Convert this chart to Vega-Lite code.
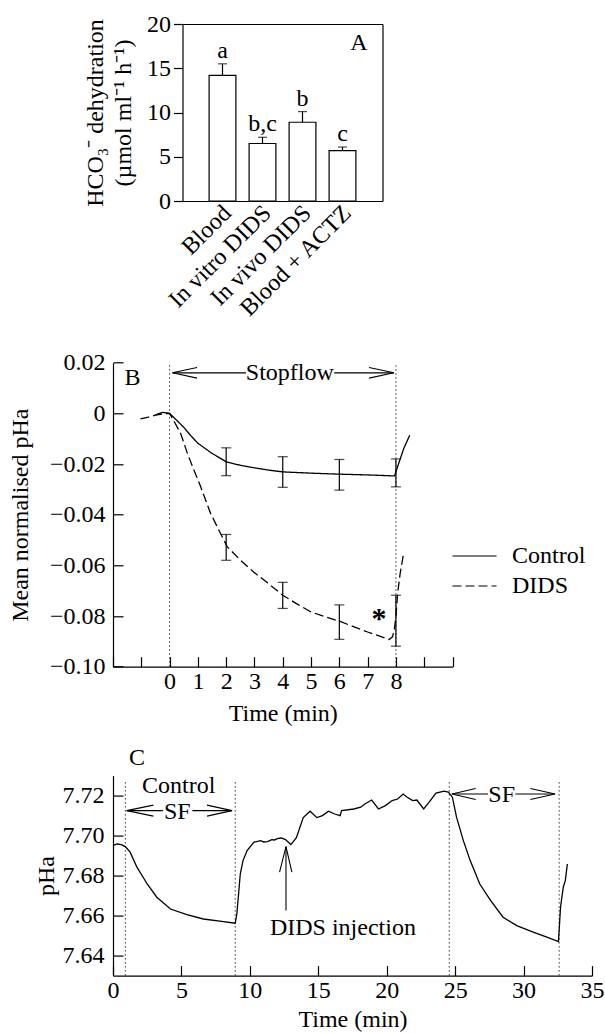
{
  "$schema": "https://vega.github.io/schema/vega-lite/v6.json",
  "autosize": {"type": "pad"},
  "padding": {"left": 8, "top": 12, "right": 0, "bottom": 0},
  "background": "white",
  "bounds": "flush",
  "spacing": 108.3,
  "datasets": {
    "bars": [
      {"group": "Blood", "value": 14.2, "upper": 15.5, "letter": "a"},
      {"group": "In vitro DIDS", "value": 6.5, "upper": 7.2, "letter": "b,c"},
      {"group": "In vivo DIDS", "value": 8.9, "upper": 10.1, "letter": "b"},
      {"group": "Blood + ACTZ", "value": 5.7, "upper": 6.1, "letter": "c"}
    ],
    "curvesB": [
      {"series": "Control", "t": -0.5, "v": -0.0006},
      {"series": "Control", "t": -0.25, "v": 0.0004},
      {"series": "Control", "t": 0, "v": 0},
      {"series": "Control", "t": 0.25, "v": -0.0027},
      {"series": "Control", "t": 0.5, "v": -0.0055},
      {"series": "Control", "t": 0.75, "v": -0.0088},
      {"series": "Control", "t": 1, "v": -0.0118},
      {"series": "Control", "t": 1.5, "v": -0.0158},
      {"series": "Control", "t": 2, "v": -0.0191},
      {"series": "Control", "t": 2.5, "v": -0.0205},
      {"series": "Control", "t": 3, "v": -0.0215},
      {"series": "Control", "t": 3.5, "v": -0.0224},
      {"series": "Control", "t": 4, "v": -0.0231},
      {"series": "Control", "t": 5, "v": -0.0236},
      {"series": "Control", "t": 6, "v": -0.024},
      {"series": "Control", "t": 7, "v": -0.0243},
      {"series": "Control", "t": 7.95, "v": -0.0247},
      {"series": "Control", "t": 8.1, "v": -0.0197},
      {"series": "Control", "t": 8.28, "v": -0.0138},
      {"series": "Control", "t": 8.49, "v": -0.0086},
      {"series": "DIDS", "t": -1.03, "v": -0.0022},
      {"series": "DIDS", "t": -0.75, "v": -0.0015},
      {"series": "DIDS", "t": -0.5, "v": -0.0007},
      {"series": "DIDS", "t": -0.25, "v": -0.0002},
      {"series": "DIDS", "t": 0, "v": 0},
      {"series": "DIDS", "t": 0.2, "v": -0.004},
      {"series": "DIDS", "t": 0.39, "v": -0.0079},
      {"series": "DIDS", "t": 0.63, "v": -0.0158},
      {"series": "DIDS", "t": 0.86, "v": -0.0224},
      {"series": "DIDS", "t": 1.1, "v": -0.029},
      {"series": "DIDS", "t": 1.45, "v": -0.0395},
      {"series": "DIDS", "t": 1.8, "v": -0.0474},
      {"series": "DIDS", "t": 2.04, "v": -0.0527},
      {"series": "DIDS", "t": 2.5, "v": -0.0579},
      {"series": "DIDS", "t": 2.98, "v": -0.0627},
      {"series": "DIDS", "t": 3.45, "v": -0.0668},
      {"series": "DIDS", "t": 4, "v": -0.0718},
      {"series": "DIDS", "t": 4.5, "v": -0.0752},
      {"series": "DIDS", "t": 5, "v": -0.0784},
      {"series": "DIDS", "t": 5.5, "v": -0.0803},
      {"series": "DIDS", "t": 6, "v": -0.082},
      {"series": "DIDS", "t": 6.5, "v": -0.0842},
      {"series": "DIDS", "t": 7, "v": -0.0863},
      {"series": "DIDS", "t": 7.5, "v": -0.0882},
      {"series": "DIDS", "t": 7.76, "v": -0.0893},
      {"series": "DIDS", "t": 7.88, "v": -0.0882},
      {"series": "DIDS", "t": 7.94, "v": -0.0856},
      {"series": "DIDS", "t": 8.0, "v": -0.0803},
      {"series": "DIDS", "t": 8.06, "v": -0.0711},
      {"series": "DIDS", "t": 8.15, "v": -0.0632},
      {"series": "DIDS", "t": 8.26, "v": -0.056}
    ],
    "errB": [
      {"series": "Control", "t": 2, "lo": -0.0246, "hi": -0.0136},
      {"series": "Control", "t": 4, "lo": -0.0292, "hi": -0.0171},
      {"series": "Control", "t": 6, "lo": -0.0303, "hi": -0.0182},
      {"series": "Control", "t": 8, "lo": -0.029, "hi": -0.018},
      {"series": "DIDS", "t": 2, "lo": -0.058, "hi": -0.0478},
      {"series": "DIDS", "t": 4, "lo": -0.077, "hi": -0.0667},
      {"series": "DIDS", "t": 6, "lo": -0.0892, "hi": -0.0756},
      {"series": "DIDS", "t": 8, "lo": -0.0919, "hi": -0.0718}
    ],
    "rulesB": [
      {"t": 0, "y0": -0.1, "y1": 0.02},
      {"t": 8, "y0": -0.1, "y1": 0.02}
    ],
    "arrowsB": [
      {"seg": "Lh", "o": 1, "t": 0.97, "v": 0.0181},
      {"seg": "Lh", "o": 2, "t": 0.1, "v": 0.016},
      {"seg": "Lh", "o": 3, "t": 0.97, "v": 0.0139},
      {"seg": "Ls", "o": 1, "t": 0.1, "v": 0.016},
      {"seg": "Ls", "o": 2, "t": 2.7, "v": 0.016},
      {"seg": "Rs", "o": 1, "t": 5.82, "v": 0.016},
      {"seg": "Rs", "o": 2, "t": 7.93, "v": 0.016},
      {"seg": "Rh", "o": 1, "t": 7.05, "v": 0.0181},
      {"seg": "Rh", "o": 2, "t": 7.93, "v": 0.016},
      {"seg": "Rh", "o": 3, "t": 7.05, "v": 0.0139}
    ],
    "textB": [
      {"t": 4.25, "v": 0.016, "label": "Stopflow"},
      {"t": -1.31, "v": 0.014, "label": "B"}
    ],
    "starB": [
      {"t": 7.4, "v": -0.08, "label": "*"}
    ],
    "curveC": [
      {"t": 0, "v": 7.695}, {"t": 0.3, "v": 7.6958}, {"t": 0.6, "v": 7.6955}, {"t": 0.9, "v": 7.6945},
      {"t": 1.25, "v": 7.6917}, {"t": 1.75, "v": 7.6842}, {"t": 2.5, "v": 7.6758}, {"t": 3.2, "v": 7.6692},
      {"t": 4.2, "v": 7.6633}, {"t": 5.4, "v": 7.6605}, {"t": 6.6, "v": 7.6583}, {"t": 7.8, "v": 7.6572},
      {"t": 8.93, "v": 7.6562}, {"t": 9.05, "v": 7.6608}, {"t": 9.3, "v": 7.6808}, {"t": 9.5, "v": 7.6875},
      {"t": 9.8, "v": 7.6925}, {"t": 10.3, "v": 7.6967}, {"t": 10.8, "v": 7.6975}, {"t": 11.0, "v": 7.6968},
      {"t": 11.3, "v": 7.697}, {"t": 11.6, "v": 7.698}, {"t": 11.8, "v": 7.6978}, {"t": 12.0, "v": 7.6985},
      {"t": 12.3, "v": 7.6988}, {"t": 12.6, "v": 7.698}, {"t": 13.0, "v": 7.6955}, {"t": 13.4, "v": 7.699},
      {"t": 13.9, "v": 7.709}, {"t": 14.4, "v": 7.7122}, {"t": 14.9, "v": 7.709}, {"t": 15.3, "v": 7.71},
      {"t": 15.75, "v": 7.7122}, {"t": 16.2, "v": 7.7108}, {"t": 16.6, "v": 7.71}, {"t": 16.7, "v": 7.7125},
      {"t": 17.6, "v": 7.7133}, {"t": 18.1, "v": 7.7142}, {"t": 18.4, "v": 7.7158}, {"t": 18.9, "v": 7.7178},
      {"t": 19.4, "v": 7.7133}, {"t": 19.9, "v": 7.715}, {"t": 20.4, "v": 7.7175}, {"t": 20.8, "v": 7.7183},
      {"t": 21.2, "v": 7.7208}, {"t": 21.5, "v": 7.7192}, {"t": 21.9, "v": 7.7175}, {"t": 22.2, "v": 7.7178},
      {"t": 22.7, "v": 7.7133}, {"t": 23.1, "v": 7.7167}, {"t": 23.6, "v": 7.7212}, {"t": 24.2, "v": 7.7222},
      {"t": 24.5, "v": 7.7217}, {"t": 24.8, "v": 7.7192}, {"t": 25.1, "v": 7.7092}, {"t": 25.6, "v": 7.6975},
      {"t": 26.1, "v": 7.6875}, {"t": 26.8, "v": 7.6758}, {"t": 27.6, "v": 7.6675}, {"t": 28.5, "v": 7.6592},
      {"t": 29.5, "v": 7.655}, {"t": 30.7, "v": 7.6517}, {"t": 31.7, "v": 7.6492}, {"t": 32.55, "v": 7.647},
      {"t": 32.7, "v": 7.6642}, {"t": 32.9, "v": 7.6742}, {"t": 33.05, "v": 7.6775}, {"t": 33.2, "v": 7.6858}
    ],
    "rulesC": [
      {"t": 0.9, "y0": 7.63, "y1": 7.7272},
      {"t": 8.93, "y0": 7.63, "y1": 7.7272},
      {"t": 24.57, "y0": 7.63, "y1": 7.7272},
      {"t": 32.6, "y0": 7.63, "y1": 7.7272}
    ],
    "arrowsC": [
      {"seg": "L1h", "o": 1, "t": 2.95, "v": 7.71525},
      {"seg": "L1h", "o": 2, "t": 1.0, "v": 7.7125},
      {"seg": "L1h", "o": 3, "t": 2.95, "v": 7.70975},
      {"seg": "L1s", "o": 1, "t": 1.0, "v": 7.7125},
      {"seg": "L1s", "o": 2, "t": 3.65, "v": 7.7125},
      {"seg": "R1s", "o": 1, "t": 5.8, "v": 7.7125},
      {"seg": "R1s", "o": 2, "t": 8.7, "v": 7.7125},
      {"seg": "R1h", "o": 1, "t": 6.87, "v": 7.71525},
      {"seg": "R1h", "o": 2, "t": 8.7, "v": 7.7125},
      {"seg": "R1h", "o": 3, "t": 6.87, "v": 7.70975},
      {"seg": "L2h", "o": 1, "t": 26.5, "v": 7.72355},
      {"seg": "L2h", "o": 2, "t": 24.76, "v": 7.7208},
      {"seg": "L2h", "o": 3, "t": 26.5, "v": 7.71805},
      {"seg": "L2s", "o": 1, "t": 24.76, "v": 7.7208},
      {"seg": "L2s", "o": 2, "t": 27.4, "v": 7.7208},
      {"seg": "R2s", "o": 1, "t": 29.4, "v": 7.7208},
      {"seg": "R2s", "o": 2, "t": 32.3, "v": 7.7208},
      {"seg": "R2h", "o": 1, "t": 30.5, "v": 7.72355},
      {"seg": "R2h", "o": 2, "t": 32.3, "v": 7.7208},
      {"seg": "R2h", "o": 3, "t": 30.5, "v": 7.71805},
      {"seg": "Ds", "o": 1, "t": 12.64, "v": 7.6625},
      {"seg": "Ds", "o": 2, "t": 12.64, "v": 7.6945},
      {"seg": "Dh", "o": 1, "t": 12.17, "v": 7.6817},
      {"seg": "Dh", "o": 2, "t": 12.64, "v": 7.6945},
      {"seg": "Dh", "o": 3, "t": 13.07, "v": 7.6817}
    ],
    "textC": [
      {"t": 4.8, "v": 7.7247, "label": "Control"},
      {"t": 4.7, "v": 7.712, "label": "SF"},
      {"t": 28.4, "v": 7.7205, "label": "SF"},
      {"t": 16.8, "v": 7.6538, "label": "DIDS injection"}
    ]
  },
  "vconcat": [
    {
      "width": 269.5,
      "height": 177,
      "data": {"name": "bars"},
      "layer": [
        {
          "mark": {"type": "bar", "fill": "white", "stroke": "black", "strokeWidth": 1.2},
          "encoding": {
            "x": {"field": "group", "type": "nominal", "sort": null,
                  "scale": {"range": [69.5, 269.5], "paddingInner": 0.33, "paddingOuter": 0.665},
                  "axis": {"title": null, "labelAngle": -45, "labelAlign": "right", "labelBaseline": "middle", "ticks": false, "labelPadding": 8, "labelOffset": 5}},
            "y": {"field": "value", "type": "quantitative", "scale": {"domain": [0, 20], "nice": false},
                  "axis": {"values": [0, 5, 10, 15, 20], "tickSize": 9, "labelPadding": 3, "offset": -69.5,
                           "title": ["HCO₃⁻ dehydration", "(µmol ml⁻¹ h⁻¹)"], "titlePadding": 11, "titleLineHeight": 28}}
          }
        },
        {
          "mark": {"type": "tick", "orient": "horizontal", "size": 9, "thickness": 1.2, "color": "black"},
          "encoding": {
            "x": {"field": "group", "type": "nominal", "sort": null, "axis": {"orient": "top", "labels": false, "ticks": false, "title": null}},
            "y": {"field": "upper", "type": "quantitative", "axis": {"orient": "right", "labels": false, "ticks": false, "title": null}}
          }
        },
        {
          "mark": {"type": "rule", "color": "black", "strokeWidth": 1.2},
          "encoding": {
            "x": {"field": "group", "type": "nominal", "sort": null, "axis": null},
            "y": {"field": "value", "type": "quantitative", "axis": null},
            "y2": {"field": "upper"}
          }
        },
        {
          "mark": {"type": "text", "baseline": "alphabetic", "dy": -6},
          "encoding": {
            "x": {"field": "group", "type": "nominal", "sort": null, "axis": null},
            "y": {"field": "upper", "type": "quantitative", "axis": null},
            "text": {"field": "letter"}
          }
        },
        {
          "data": {"values": [{"group": "Blood + ACTZ", "y": 17.8, "label": "A"}]},
          "mark": {"type": "text", "baseline": "middle", "dx": 16.5},
          "encoding": {
            "x": {"field": "group", "type": "nominal", "sort": null, "axis": null},
            "y": {"field": "y", "type": "quantitative", "axis": null},
            "text": {"field": "label"}
          }
        }
      ],
      "resolve": {"axis": {"x": "independent", "y": "independent"}}
    },
    {
      "width": 339.5,
      "height": 357.4,
      "encoding": {
        "x": {"field": "t", "type": "quantitative", "scale": {"domain": [-2, 10], "nice": false, "zero": false},
              "axis": {"values": [-2, -1, 0, 1, 2, 3, 4, 5, 6, 7, 8, 9, 10], "tickSize": -10, "labelPadding": 13,
                       "labelExpr": "datum.value >= 0 && datum.value <= 8 ? datum.label : ''",
                       "title": "Time (min)", "titlePadding": 8}}
      },
      "layer": [
        {
          "data": {"name": "rulesB"},
          "mark": {"type": "rule", "strokeDash": [1.5, 2.5], "color": "#333333", "strokeWidth": 1},
          "encoding": {
            "y": {"field": "y0", "type": "quantitative",
                  "scale": {"domain": [-0.1, 0.02], "nice": false, "zero": false, "range": [357.4, 53.4]},
                  "axis": {"values": [-0.1, -0.08, -0.06, -0.04, -0.02, 0, 0.02], "tickSize": -10, "labelPadding": 18,
                           "labelExpr": "datum.value == 0 ? '0' : format(datum.value, '.2f')",
                           "title": "Mean normalised pHa", "titlePadding": 17}},
            "y2": {"field": "y1"}
          }
        },
        {
          "data": {"name": "curvesB"},
          "mark": {"type": "line", "color": "black", "strokeWidth": 1.3},
          "encoding": {
            "y": {"field": "v", "type": "quantitative"},
            "strokeDash": {"field": "series", "type": "nominal",
                           "scale": {"domain": ["Control", "DIDS"], "range": [[1, 0], [9, 4]]},
                           "legend": {"orient": "none", "legendX": 333, "legendY": 520, "title": null,
                                      "symbolType": "M-1,0H7", "symbolSize": 121, "symbolStrokeWidth": 1.2,
                                      "symbolStrokeColor": "black", "symbolFillColor": "transparent",
                                      "labelOffset": 42, "rowPadding": 6, "padding": 0}}
          }
        },
        {
          "data": {"name": "errB"},
          "mark": {"type": "rule", "color": "black", "strokeWidth": 1.2},
          "encoding": {
            "y": {"field": "lo", "type": "quantitative"},
            "y2": {"field": "hi"}
          }
        },
        {
          "data": {"name": "errB"},
          "mark": {"type": "tick", "orient": "horizontal", "size": 10, "thickness": 1.2, "color": "black"},
          "encoding": {"y": {"field": "lo", "type": "quantitative"}}
        },
        {
          "data": {"name": "errB"},
          "mark": {"type": "tick", "orient": "horizontal", "size": 10, "thickness": 1.2, "color": "black"},
          "encoding": {"y": {"field": "hi", "type": "quantitative"}}
        },
        {
          "data": {"name": "arrowsB"},
          "mark": {"type": "line", "color": "black", "strokeWidth": 1.1},
          "encoding": {
            "y": {"field": "v", "type": "quantitative"},
            "detail": {"field": "seg"},
            "order": {"field": "o"}
          }
        },
        {
          "data": {"name": "textB"},
          "mark": {"type": "text", "baseline": "middle", "align": "center"},
          "encoding": {
            "y": {"field": "v", "type": "quantitative"},
            "text": {"field": "label"}
          }
        },
        {
          "data": {"name": "starB"},
          "mark": {"type": "text", "baseline": "middle", "align": "center", "fontSize": 30, "fontWeight": "bold", "dy": 3},
          "encoding": {
            "y": {"field": "v", "type": "quantitative"},
            "text": {"field": "label"}
          }
        }
      ]
    },
    {
      "width": 479,
      "height": 200,
      "title": {"text": "C", "anchor": "start", "frame": "group", "dx": 16, "offset": -15, "baseline": "alphabetic"},
      "encoding": {
        "x": {"field": "t", "type": "quantitative", "scale": {"domain": [0, 35], "nice": false},
              "axis": {"values": [0, 5, 10, 15, 20, 25, 30, 35], "tickSize": -10, "labelPadding": 13,
                       "title": "Time (min)", "titlePadding": 5}}
      },
      "layer": [
        {
          "data": {"name": "rulesC"},
          "mark": {"type": "rule", "strokeDash": [1.5, 2.5], "color": "#333333", "strokeWidth": 1},
          "encoding": {
            "y": {"field": "y0", "type": "quantitative",
                  "scale": {"domain": [7.63, 7.73], "nice": false, "zero": false},
                  "axis": {"values": [7.64, 7.66, 7.68, 7.7, 7.72], "format": ".2f", "tickSize": -10, "labelPadding": 19,
                           "title": "pHa", "titlePadding": 4}},
            "y2": {"field": "y1"}
          }
        },
        {
          "data": {"name": "curveC"},
          "mark": {"type": "line", "color": "black", "strokeWidth": 1.3},
          "encoding": {"y": {"field": "v", "type": "quantitative"}}
        },
        {
          "data": {"name": "arrowsC"},
          "mark": {"type": "line", "color": "black", "strokeWidth": 1.1},
          "encoding": {
            "y": {"field": "v", "type": "quantitative"},
            "detail": {"field": "seg"},
            "order": {"field": "o"}
          }
        },
        {
          "data": {"name": "textC"},
          "mark": {"type": "text", "baseline": "middle", "align": "center"},
          "encoding": {
            "y": {"field": "v", "type": "quantitative"},
            "text": {"field": "label"}
          }
        }
      ]
    }
  ],
  "config": {
    "view": {"stroke": null},
    "font": "Liberation Serif",
    "axis": {"labelFont": "Liberation Serif", "titleFont": "Liberation Serif", "labelFontSize": 24, "titleFontSize": 24,
             "titleFontWeight": "normal", "labelColor": "black", "titleColor": "black", "domainColor": "black",
             "tickColor": "black", "domainWidth": 1.2, "tickWidth": 1.2, "grid": false, "labelFlush": false, "labelOverlap": false},
    "legend": {"labelFont": "Liberation Serif", "labelFontSize": 24, "labelColor": "black"},
    "text": {"font": "Liberation Serif", "fontSize": 24, "color": "black"},
    "title": {"font": "Liberation Serif", "fontSize": 24, "fontWeight": "normal", "color": "black"}
  }
}
